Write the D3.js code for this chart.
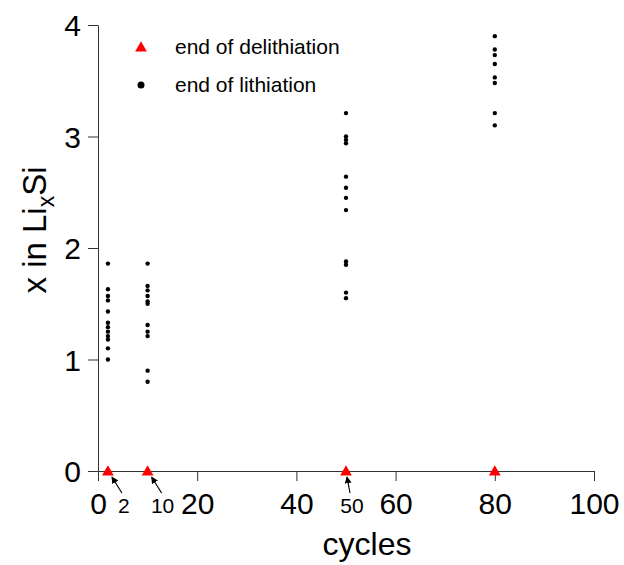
<!DOCTYPE html>
<html>
<head>
<meta charset="utf-8">
<script src="https://cdn.jsdelivr.net/npm/d3@7"></script>
<style>
  body { margin: 0; background: #fff; }
  text { font-family: "Liberation Sans", Arial, sans-serif; fill: #000; }
</style>
</head>
<body>
<div id="chart"></div>
<script>
// cycles at which x in LixSi was measured
const delithCycles = [2, 10, 50, 80];
const delithX = [0, 0, 0, 0];

const lithCycle2 = [1.86, 1.63, 1.57, 1.53, 1.43, 1.33, 1.29, 1.25, 1.21, 1.18, 1.10, 1.00];
const lithCycle10 = [1.86, 1.66, 1.62, 1.57, 1.52, 1.50, 1.31, 1.25, 1.21, 0.90, 0.80];
const lithCycle50 = [3.21, 3.00, 2.97, 2.94, 2.64, 2.54, 2.45, 2.34, 1.88, 1.85, 1.60, 1.55];
const lithCycle80 = [3.90, 3.78, 3.73, 3.65, 3.53, 3.48, 3.21, 3.10];

const xTicks = [0, 20, 40, 60, 80, 100];
const yTicks = [0, 1, 2, 3, 4];
const annoCycles = [2, 10, 50];
const annoLabels = ["2", "10", "50"];
const legendLabels = ["end of delithiation", "end of lithiation"];

const lithPoints = [];
[[2, lithCycle2], [10, lithCycle10], [50, lithCycle50], [80, lithCycle80]].forEach(([c, vals]) => {
  vals.forEach(v => lithPoints.push({ c: c, v: v }));
});

const width = 624, height = 565;
const svg = d3.select("#chart").append("svg")
  .attr("width", width)
  .attr("height", height);

const x = d3.scaleLinear().domain([0, 100]).range([98, 594]);
const y = d3.scaleLinear().domain([0, 4]).range([471, 25]);

// axes
const xAxis = svg.append("g")
  .attr("transform", "translate(0," + y(0) + ")")
  .call(d3.axisBottom(x).tickValues(xTicks).tickFormat(d3.format("d"))
    .tickSize(10).tickPadding(12).tickSizeOuter(0));
const yAxis = svg.append("g")
  .attr("transform", "translate(" + x(0) + ",0)")
  .call(d3.axisLeft(y).tickValues(yTicks).tickFormat(d3.format("d"))
    .tickSize(10).tickPadding(7).tickSizeOuter(0));

[xAxis, yAxis].forEach(g => {
  g.selectAll("path, line").attr("stroke", "#333").attr("stroke-width", 1);
  g.selectAll("text").style("font-size", "30px").attr("fill", "#000");
  g.attr("font-family", null);
});
yAxis.selectAll("text").attr("dy", "0.36em");

// axis titles
svg.append("text")
  .attr("x", 367)
  .attr("y", 555)
  .attr("text-anchor", "middle")
  .style("font-size", "32px")
  .text("cycles");

const yTitle = svg.append("text")
  .attr("transform", "translate(46,230) rotate(-90)")
  .attr("text-anchor", "middle")
  .style("font-size", "33px");
yTitle.append("tspan").text("x in Li");
yTitle.append("tspan").attr("dy", 8).style("font-size", "23px").text("x");
yTitle.append("tspan").attr("dy", -8).text("Si");

// marks
const tri = d3.symbol().type(d3.symbolTriangle).size(60);

svg.append("g").selectAll("circle")
  .data(lithPoints)
  .enter()
  .append("circle")
  .attr("cx", d => x(d.c))
  .attr("cy", d => y(d.v))
  .attr("r", 2.2)
  .attr("fill", "#000");

svg.append("g").selectAll("path")
  .data(delithCycles.map((c, i) => ({ c: c, v: delithX[i] })))
  .enter()
  .append("path")
  .attr("d", tri)
  .attr("transform", d => "translate(" + x(d.c) + "," + (y(d.v) + 1) + ")")
  .attr("fill", "#f00");

// arrow annotations
svg.append("defs").append("marker")
  .attr("id", "head")
  .attr("viewBox", "0 0 10 10")
  .attr("refX", 9)
  .attr("refY", 5)
  .attr("markerWidth", 7)
  .attr("markerHeight", 7)
  .attr("markerUnits", "userSpaceOnUse")
  .attr("orient", "auto")
  .append("path")
  .attr("d", "M0,0 L10,5 L0,10 z")
  .attr("fill", "#000");

const annoDx = [14, 14, 4];
const annoTextDx = [16, 15, 6];
const anno = svg.append("g").selectAll("g")
  .data(annoCycles)
  .enter()
  .append("g");

anno.append("line")
  .attr("x1", (d, i) => x(d) + annoDx[i])
  .attr("y1", y(0) + 22)
  .attr("x2", (d, i) => x(d) + (i == 2 ? 1 : 4))
  .attr("y2", y(0) + 6)
  .attr("stroke", "#000")
  .attr("stroke-width", 1.2)
  .attr("marker-end", "url(#head)");

anno.append("text")
  .attr("x", (d, i) => x(d) + annoTextDx[i])
  .attr("y", y(0) + 42)
  .attr("text-anchor", "middle")
  .style("font-size", "21px")
  .text((d, i) => annoLabels[i]);

// legend
const legend = svg.append("g");
legend.append("path")
  .attr("d", tri)
  .attr("transform", "translate(141,48)")
  .attr("fill", "#f00");
legend.append("circle")
  .attr("cx", 141)
  .attr("cy", 85)
  .attr("r", 3.5)
  .attr("fill", "#000");
legend.selectAll("text")
  .data(legendLabels)
  .enter()
  .append("text")
  .attr("x", 175)
  .attr("y", (d, i) => 47 + i * 38)
  .attr("dy", "0.35em")
  .style("font-size", "21px")
  .text(d => d);
</script>
</body>
</html>
